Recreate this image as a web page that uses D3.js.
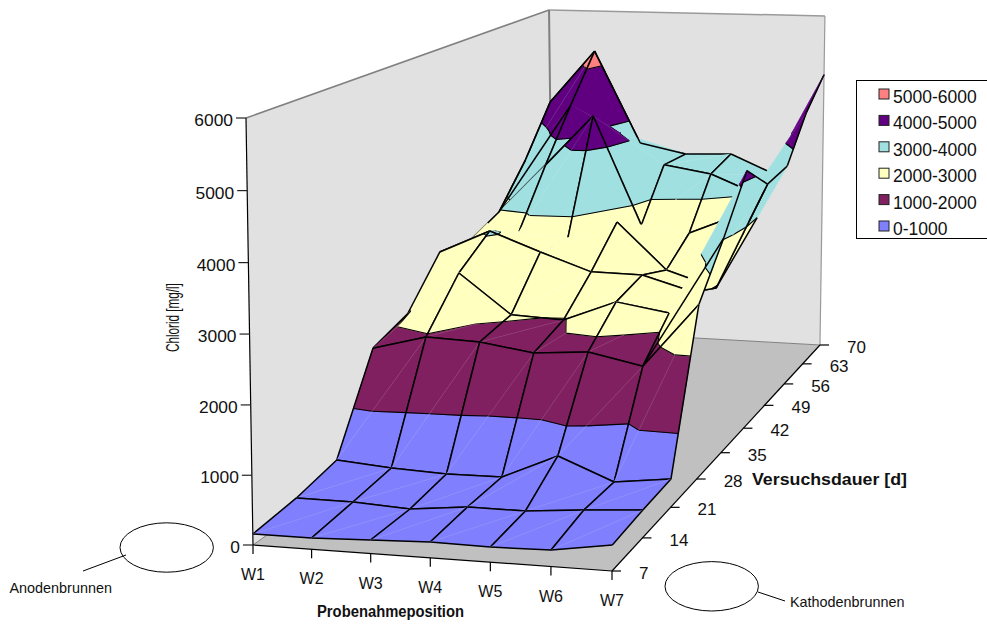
<!DOCTYPE html>
<html><head><meta charset="utf-8">
<script src="https://cdn.jsdelivr.net/npm/d3@7/dist/d3.min.js"></script>
<style>html,body{margin:0;padding:0;background:#fff}svg{display:block}text{font-family:"Liberation Sans",Arial,sans-serif;fill:#111}</style>
</head><body><svg id="c" width="987" height="626"></svg>
<script>
// ---- data ----
const positions=["W1","W2","W3","W4","W5","W6","W7"];
const durations=[7,14,21,28,35,42,49,56,63,70];
const d7 =[158,161,192,224,213,231,360];
const d14=[235,232,186,273,273,344,401];
const d21=[381,313,278,287,660,323,423];
const d28=[1745,1967,1932,1804,1866,1693,2680];
const d35=[1960,2658,2024,1983,2316,2181,3396];
const d42=[2664,3051,2738,2449,2436,2198,4200];
const d49=[2577,2751,2683,2992,2217,1950,3729];
const d56=[2787,3652,4533,2662,2561,2909,3784];
const d63=[3463,4486,4029,3470,3338,3000,4477];
const d70=[4305,5266,3600,3426,3458,3100,4950];
const grid=[d7,d14,d21,d28,d35,d42,d49,d56,d63,d70];
const bandLabels=["0-1000","1000-2000","2000-3000","3000-4000","4000-5000","5000-6000"];
const bandColors=["#8080FF","#802060","#FFFFC0","#A0E0E0","#600080","#FF8080"];
const zTicks=[0,1000,2000,3000,4000,5000,6000];
// mesh edges the original renderer leaves out, and fold/outline lines it draws on top
const hiddenEdges=["W1:35|W2:35","W2:42|W2:49","W3:42|W3:49","W1:49|W2:49","W2:49|W3:49","W3:49|W4:49","W4:49|W4:56","W4:56|W5:56","W1:63|W2:63","W3:56|W3:63","W2:63|W3:63","W3:63|W3:70","W3:63|W4:63","W6:63|W6:70","W6:63|W7:63","W6:70|W7:70","W6:35|W7:35","W6:42|W7:42","W6:35|W6:42","W6:49|W6:56","W6:56|W6:63","W6:56|W7:56"];
const foldEdges=[[5,28,6,35,0,1],[5,49,6,56,0,.57],[5,49,6,49,.65,1],[0,56,1,63,0,1],[0,49,0,56,.6,1],[0,56,0,63,0,1],[0,63,0,70,0,1],[0,70,1,70,0,1],[1,70,2,70,0,1],[2,70,3,70,0,1]];

// ---- projection ----
const uS=d3.scaleLinear().domain([0,6]).range([0,1]);
const vS=d3.scaleLinear().domain([7,70]).range([0,1]);
const tS=d3.scaleLinear().domain([0,6000]).range([0,1]);
const G=-0.02453,H=0.3637,KZ=0.0237;
function project(i,d,z){
  const u=uS(i),v=vS(d),t=tS(z),w=1+G*u+H*v;
  const zz=t*(1-KZ)/(1-KZ*t);
  const fx=(344*u+501.1*v+253)/w, fy=(12*u-95*v+545)/w;
  const tx=(356*u+502.7*v+246)/w, ty=(7.8*u-104.4*v+118)/w;
  return [fx+(tx-fx)*zz, fy+(ty-fy)*zz];
}
const svg=d3.select("#c");
const line=d3.line();
const poly=(pts,g,fill,stroke,sw)=>g.append("path").attr("d",line(pts)+"Z").attr("fill",fill).attr("stroke",stroke||"none").attr("stroke-width",sw||0).attr("stroke-linejoin","round");
const seg=(a,b,g,stroke,sw,op)=>g.append("line").attr("x1",a[0]).attr("y1",a[1]).attr("x2",b[0]).attr("y2",b[1]).attr("stroke",stroke).attr("stroke-width",sw).attr("stroke-opacity",op==null?1:op);

// walls and floor
const iMax=6,dMin=7,dMax=70,zMax=6000;
const bg=svg.append("g");
poly([project(0,dMin,0),project(0,dMax,0),project(iMax,dMax,0),project(iMax,dMin,0)],bg,"#C0C0C0");
poly([project(0,dMin,0),project(0,dMin,zMax),project(0,dMax,zMax),project(0,dMax,0)],bg,"#E1E1E1");
poly([project(0,dMax,0),project(0,dMax,zMax),project(iMax,dMax,zMax),project(iMax,dMax,0)],bg,"#E1E1E1");
seg(project(0,dMin,zMax),project(0,dMax,zMax),bg,"#808080",1.5);
seg(project(0,dMax,zMax),project(iMax,dMax,zMax),bg,"#9a9a9a",1.5);
seg(project(0,dMax,zMax),project(0,dMax,0),bg,"#808080",2);
seg(project(iMax,dMax,zMax),project(iMax,dMax,0),bg,"#9a9a9a",1.2);
seg(project(0,dMax,0),project(iMax,dMax,0),bg,"#808080",1);
seg(project(0,dMin,0),project(0,dMax,0),bg,"#808080",1);

// axes
const ax=svg.append("g");
seg(project(0,dMin,0),project(0,dMin,zMax),ax,"#000",1.2);
seg(project(0,dMin,0),project(iMax,dMin,0),ax,"#000",1.2);
seg(project(iMax,dMin,0),project(iMax,dMax,0),ax,"#000",1.2);
zTicks.forEach(z=>{const p=project(0,dMin,z);
  seg([p[0]-10,p[1]],p,ax,"#222",1.2);
  ax.append("text").attr("x",p[0]-13).attr("y",p[1]+8).attr("text-anchor","end").attr("font-size",17.4).text(z);});
positions.forEach((n,i)=>{const p=project(i,dMin,0);
  seg(p,[p[0],p[1]+9],ax,"#000",1.2);
  ax.append("text").attr("x",p[0]).attr("y",p[1]+35).attr("text-anchor","middle").attr("font-size",16).text(n);});
durations.forEach(d=>{const p=project(iMax,d,0);
  seg(p,[p[0]+9,p[1]],ax,"#000",1.2);
  ax.append("text").attr("x",p[0]+27).attr("y",p[1]+8).attr("font-size",17).text(d);});

// surface
function clip(tri,lo,hi){
  const cut=(pts,keep,level)=>{const out=[];
    pts.forEach((a,n)=>{const b=pts[(n+1)%pts.length],ka=keep(a[2]),kb=keep(b[2]);
      if(ka)out.push(a);
      if(ka!==kb){const f=(level-a[2])/(b[2]-a[2]);out.push([a[0]+(b[0]-a[0])*f,a[1]+(b[1]-a[1])*f,level]);}
    });return out;};
  let p=cut(tri,z=>z>=lo,lo);
  if(p.length)p=cut(p,z=>z<=hi,hi);
  return p;
}
function levelSeg(tri,level){
  const out=[];
  tri.forEach((a,n)=>{const b=tri[(n+1)%3];
    if((a[2]<level)!==(b[2]<level)){const f=(level-a[2])/(b[2]-a[2]);out.push([a[0]+(b[0]-a[0])*f,a[1]+(b[1]-a[1])*f,level]);}});
  return out.length===2?out:null;
}
const cells=[];
for(let k=0;k<durations.length-1;k++)for(let i=0;i<positions.length-1;i++)cells.push({i,k,w:1+G*uS(i+.5)+H*vS((durations[k]+durations[k+1])/2)});
cells.sort((a,b)=>b.w-a.w);
const sg=svg.append("g");
const P=v=>project(v[0],v[1],v[2]);
const hiddenSet=new Set(hiddenEdges);
const isHidden=(a,b)=>{
  const n=v=>positions[v[0]]+":"+v[1];
  return hiddenSet.has(n(a)+"|"+n(b))||hiddenSet.has(n(b)+"|"+n(a));
};
cells.forEach(({i,k})=>{
  const g=sg.append("g");
  const V=(a,b)=>[a,durations[b],grid[b][a]];
  const A=V(i,k),B=V(i+1,k),C=V(i+1,k+1),D=V(i,k+1);
  // back triangle first, front triangle over it
  [{t:[A,C,D],e:[[C,D],[D,A]]},{t:[A,B,C],e:[[A,B],[B,C]]}].forEach(({t,e})=>{
    bandColors.forEach((c,b)=>{
      const p=clip(t,b*1000,(b+1)*1000);
      if(p.length>2)poly(p.map(P),g,c,c,.6);
    });
    [1000,2000,3000,4000,5000].forEach(l=>{
      const s=levelSeg(t,l);if(s)seg(P(s[0]),P(s[1]),g,"#000",1.1);
    });
    e.forEach(x=>{if(!isHidden(x[0],x[1]))seg(P(x[0]),P(x[1]),g,"#000",1.5);});
  });
  seg(P(A),P(C),g,"#fff",.6,.18);
});
const fg=svg.append("g");
foldEdges.forEach(([i1,d1,i2,d2,f0,f1])=>{
  const z1=grid[durations.indexOf(d1)][i1],z2=grid[durations.indexOf(d2)][i2];
  const at=f=>project(i1+(i2-i1)*f,d1+(d2-d1)*f,z1+(z2-z1)*f);
  seg(at(f0),at(f1),fg,"#000",1.5);
});

// titles
svg.append("text").attr("transform","translate(179,352) rotate(-90) scale(.615,1)").attr("font-size",19).text("Chlorid [mg/l]");
svg.append("text").attr("x",317).attr("y",617).attr("font-size",16).attr("font-weight","bold").attr("textLength",147).attr("lengthAdjust","spacingAndGlyphs").text("Probenahmeposition");
svg.append("text").attr("x",752).attr("y",485).attr("font-size",17).attr("font-weight","bold").attr("textLength",155).attr("lengthAdjust","spacingAndGlyphs").text("Versuchsdauer [d]");

// annotations
const note=svg.append("g");
note.append("ellipse").attr("cx",166.7).attr("cy",547.5).attr("rx",46.7).attr("ry",24.7).attr("fill","#fff").attr("stroke","#000").attr("stroke-width",1);
note.append("ellipse").attr("cx",711.7).attr("cy",586.3).attr("rx",46.7).attr("ry",24.7).attr("fill","#fff").attr("stroke","#000").attr("stroke-width",1);
seg([83,571],[126,555],note,"#000",1);
seg([758,592],[785,601],note,"#000",1);
note.append("text").attr("x",9.5).attr("y",593).attr("font-size",14.4).text("Anodenbrunnen");
note.append("text").attr("x",790).attr("y",607).attr("font-size",14.4).text("Kathodenbrunnen");

// legend
const lg=svg.append("g");
lg.append("rect").attr("x",856.5).attr("y",80.5).attr("width",140).attr("height",158).attr("fill","#fff").attr("stroke","#000").attr("stroke-width",1);
const lY=d3.scalePoint().domain(d3.range(6)).range([94,226]);
bandLabels.slice().reverse().forEach((t,n)=>{
  lg.append("rect").attr("x",879).attr("y",lY(n)-5).attr("width",10).attr("height",10).attr("fill",bandColors[5-n]).attr("stroke","#222").attr("stroke-width",1);
  lg.append("text").attr("x",893).attr("y",lY(n)+9).attr("font-size",17.5).text(t);
});
</script></body></html>
